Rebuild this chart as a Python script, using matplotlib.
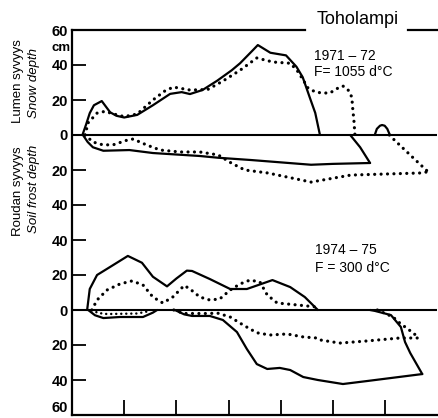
import matplotlib.pyplot as plt

plt.rcParams['font.family'] = ['Liberation Sans', 'DejaVu Sans']

# months from the start of the axis (x) and depths in cm
# --- 1971-72 ---
snow71_x = [0.20, 0.27, 0.34, 0.42, 0.57, 0.73, 0.85, 1.00, 1.25, 1.55, 1.88, 2.10, 2.26,
            2.50, 2.78, 3.06, 3.22, 3.45, 3.56, 3.80, 4.10, 4.30, 4.42, 4.56, 4.66, 4.75]
snow71_cm = [0, 6, 12.5, 17, 19.4, 13, 11, 10, 11.5, 17, 23.5, 24.5, 23.4,
             25.7, 31, 37, 41, 48, 51.4, 47, 45.5, 39, 33, 21, 12.6, 0]
snow71b_x = [0.25, 0.31, 0.48, 0.63, 0.80, 1.00, 1.25, 1.55, 1.77, 1.94, 2.26, 2.60, 2.90,
             3.22, 3.54, 3.85, 4.18, 4.31, 4.43, 4.52, 4.66, 4.79, 4.94, 5.10, 5.19,
             5.29, 5.36, 5.38, 5.40, 5.42]
snow71b_cm = [0, 7, 12.5, 13.5, 12, 10.5, 12, 20, 25, 27.4, 25.7, 26, 31,
              37, 44, 41.7, 41, 37, 31.4, 26.9, 24.6, 24, 24, 26.9, 28,
              25.7, 21.7, 14.3, 8.6, 0]
late71_x = [5.80, 5.84, 5.90, 5.94, 5.99, 6.04, 6.09]
late71_cm = [0, 3.5, 5.3, 5.7, 5.3, 3.5, 0]

frost71_x = [0.21, 0.30, 0.40, 0.60, 1.10, 1.55, 2.45, 2.80, 3.43, 4.58, 5.00, 5.71]
frost71_cm = [0, 4, 7, 9, 8.6, 10.3, 12, 13, 14.3, 17, 16.5, 16]
thaw71_x = [5.33, 5.52, 5.71]
thaw71_cm = [0, 7, 16]
frost71b_x = [0.25, 0.40, 0.60, 0.80, 1.05, 1.17, 1.43, 1.69, 2.07, 2.45, 2.80, 3.05, 3.31,
              3.75, 4.58, 5.34, 6.00, 6.69, 6.82]
frost71b_cm = [0, 4, 5.7, 5.5, 3, 2.3, 5.7, 8.6, 9.7, 9.7, 11.4, 16, 20,
               21.7, 26.9, 22.9, 22.3, 21.7, 21]
thaw71b_x = [6.08, 6.11, 6.57, 6.82]
thaw71b_cm = [0, 1, 14, 21]

# --- 1974-75 ---
snow74_x = [0.29, 0.34, 0.48, 0.73, 1.07, 1.34, 1.55, 1.82, 2.00, 2.20, 2.30, 2.64, 3.03,
            3.35, 3.84, 4.18, 4.46, 4.71]
snow74_cm = [0, 12, 20, 24.6, 30.9, 27, 19, 13.5, 18, 22.5, 22.3, 17.7, 12,
             12, 17.1, 13.1, 7.4, 0]
snow74b_x = [0.38, 0.48, 0.67, 0.92, 1.15, 1.36, 1.55, 1.74, 1.93, 2.15, 2.26, 2.45, 2.64,
             2.83, 3.03, 3.22, 3.41, 3.60, 3.74, 3.93, 4.31, 4.69, 4.73]
snow74b_cm = [0, 5.7, 11.4, 14.9, 16.6, 14.3, 7.4, 4, 7.4, 14, 12, 7.4, 5.7,
              6.3, 11.4, 14.9, 17.1, 16, 8.6, 4, 2.9, 1.7, 0]

frost74a_x = [0.31, 0.44, 0.60, 0.92, 1.36, 1.55, 1.63]
frost74a_cm = [0, 3, 4.6, 4, 4, 1.5, 0]
frost74_x = [1.97, 2.15, 2.30, 2.64, 2.89, 3.16, 3.35, 3.54, 3.74, 3.98, 4.18, 4.43, 4.71,
             5.19, 5.65, 6.71]
frost74_cm = [0, 2.5, 3.4, 3.4, 5.7, 12.6, 22.3, 30.9, 33.7, 33.1, 34.3, 38.3, 40,
              42.3, 40.6, 36.6]
thaw74_x = [5.71, 5.80, 6.11, 6.30, 6.38, 6.48, 6.71]
thaw74_cm = [0, 0.5, 2.9, 9.7, 18.3, 24.6, 36.6]
frost74ab_x = [0.38, 0.50, 0.67, 1.25, 1.50]
frost74ab_cm = [0, 1.7, 2.3, 2, 0.5]
frost74b_x = [1.95, 2.15, 2.64, 2.78, 3.03, 3.28, 3.54, 3.79, 4.12, 4.43, 4.69, 4.75, 5.13,
              5.65, 6.28, 6.63]
frost74b_cm = [0, 2, 2, 1.7, 4, 8.6, 13, 14.3, 13.7, 15.4, 16, 17.1, 18.9,
               17.7, 16, 16]
thaw74b_x = [5.85, 6.15, 6.30, 6.42, 6.57, 6.63]
thaw74b_cm = [0, 4, 8, 10.5, 14, 16]

# both winters share one vertical axis: 1971-72 zero at 160, 1974-75 zero at 60
base71 = 160
base74 = 60
ytick_pos = list(range(0, 221, 20))
ytick_lab = ['60', '40', '20', '0', '20', '40', '40', '20', '0', '20', '40', '60']
month_ticks = [1, 2, 3, 4, 5, 6]

W, H = 438, 418
fig = plt.figure(figsize=(W / 100, H / 100), dpi=100)
ax = fig.add_axes([72 / W, 3 / H, 365.4 / W, 385 / H])
ax.set_xlim(0, 7)
ax.set_ylim(0, 220)

solid = dict(color='black', lw=1.6, solid_capstyle='round', solid_joinstyle='round')
dotted = dict(color='black', lw=2.3, linestyle=(0, (0.01, 2.0)), dash_capstyle='round')


def up(xs, vals, base, style):
    ax.plot(xs, [base + v for v in vals], **style)


def down(xs, vals, base, style):
    ax.plot(xs, [base - v for v in vals], **style)


up(snow71_x, snow71_cm, base71, solid)
up(snow71b_x, snow71b_cm, base71, dotted)
up(late71_x, late71_cm, base71, solid)
down(frost71_x, frost71_cm, base71, solid)
down(thaw71_x, thaw71_cm, base71, solid)
down(frost71b_x, frost71b_cm, base71, dotted)
down(thaw71b_x, thaw71b_cm, base71, dotted)

up(snow74_x, snow74_cm, base74, solid)
up(snow74b_x, snow74b_cm, base74, dotted)
down(frost74a_x, frost74a_cm, base74, solid)
down(frost74_x, frost74_cm, base74, solid)
down(thaw74_x, thaw74_cm, base74, solid)
down(frost74ab_x, frost74ab_cm, base74, dict(dotted, lw=1.8))
down(frost74b_x, frost74b_cm, base74, dotted)
down(thaw74b_x, thaw74b_cm, base74, dotted)

# ground surface lines
ax.axhline(base71, color='black', lw=1.5)
ax.axhline(base74, color='black', lw=1.5)

# frame: left and bottom spines, top line broken by the station name
for s in ['top', 'right']:
    ax.spines[s].set_visible(False)
ax.spines['left'].set_linewidth(1.6)
ax.spines['bottom'].set_linewidth(1.6)
ax.plot([0, 4.46], [220, 220], color='black', lw=1.6, clip_on=False)
ax.plot([6.44, 7.0], [220, 220], color='black', lw=1.6, clip_on=False)

ax.set_yticks(ytick_pos)
ax.set_yticklabels(ytick_lab)
ax.set_xticks(month_ticks)
ax.tick_params(axis='y', direction='in', length=10, width=1.3, pad=3, labelsize=10.5)
ax.tick_params(axis='x', direction='in', length=11, width=1.3, labelbottom=False)
for t in ax.get_yticklabels():
    t.set_fontweight('bold')
ax.get_yticklabels()[0].set_va('bottom')


def put(x, y, s, **kw):
    fig.text(x / W, 1 - y / H, s, **kw)


put(358, 20, 'Toholampi', fontsize=13, ha='center', va='center')
put(314, 56, '1971 – 72', fontsize=10, ha='left', va='center')
put(314, 72, 'F= 1055 d°C', fontsize=10, ha='left', va='center')
put(315, 250, '1974 – 75', fontsize=10, ha='left', va='center')
put(315, 268, 'F = 300 d°C', fontsize=10, ha='left', va='center')
put(51, 48, 'cm', fontsize=9.5, fontweight='bold', ha='left', va='center')
put(18, 81, 'Lumen syvyys', fontsize=9.5, rotation=90, ha='center', va='center')
put(34, 83, 'Snow depth', fontsize=9.5, style='italic', rotation=90, ha='center', va='center')
put(18, 191, 'Roudan syvyys', fontsize=9.5, rotation=90, ha='center', va='center')
put(34, 189, 'Soil frost depth', fontsize=9.5, style='italic', rotation=90, ha='center', va='center')

fig.savefig('out.png', dpi=100, facecolor='white')
